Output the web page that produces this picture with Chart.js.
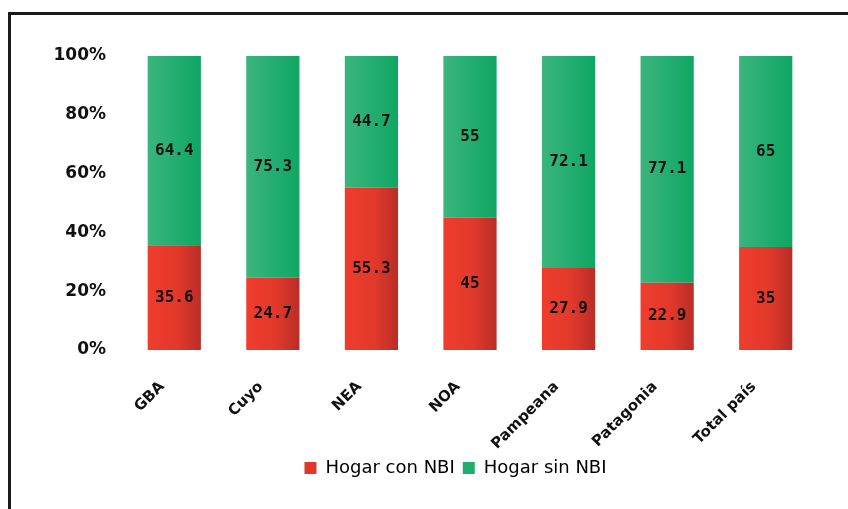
<!DOCTYPE html>
<html>
<head>
<meta charset="utf-8">
<script src="https://cdn.jsdelivr.net/npm/chart.js@4/dist/chart.umd.min.js"></script>
<style>
    html, body { margin: 0; padding: 0; background: #fff; overflow: hidden; }
    #frame { position: absolute; left: 8px; top: 12px; width: 860px; height: 520px; border: 3px solid #1a1a1a; box-sizing: border-box; }
    #wrap { position: absolute; left: 0; top: 0; width: 848px; height: 509px; }
</style>
</head>
<body>
<div id="frame"></div>
<div id="wrap"><canvas id="chart" width="848" height="509"></canvas></div>
<script>
const categories = ['GBA', 'Cuyo', 'NEA', 'NOA', 'Pampeana', 'Patagonia', 'Total país'];
const conNBI = [35.6, 24.7, 55.3, 45, 27.9, 22.9, 35];
const sinNBI = [64.4, 75.3, 44.7, 55, 72.1, 77.1, 65];
const yTicks = [0, 20, 40, 60, 80, 100];

const BAR_HALF = 27;
const LEGEND_SHIFT = 48; // legend sits centred under the plot, not the canvas

// horizontal gradient per bar, light on the left, darker on the right
const barGradient = (light, mid, dark) => (c) => {
    const chart = c.chart;
    const xs = chart.scales.x;
    if (!xs || !chart.chartArea || c.dataIndex === undefined) return mid;
    const cx = xs.getPixelForValue(c.dataIndex);
    const g = chart.ctx.createLinearGradient(cx - BAR_HALF, 0, cx + BAR_HALF, 0);
    g.addColorStop(0, light);
    g.addColorStop(0.55, mid);
    g.addColorStop(1, dark);
    return g;
};

// value labels in the middle of every segment
const valueLabels = {
    id: 'valueLabels',
    afterLayout(chart) {
        if (chart.legend) {
            chart.legend.left += LEGEND_SHIFT;
            chart.legend.right += LEGEND_SHIFT;
        }
    },
    afterDatasetsDraw(chart) {
        const ctx = chart.ctx;
        ctx.save();
        ctx.font = 'bold 16px "DejaVu Sans Mono"';
        ctx.fillStyle = '#111';
        ctx.textAlign = 'center';
        ctx.textBaseline = 'middle';
        chart.data.datasets.forEach((ds, i) => {
            chart.getDatasetMeta(i).data.forEach((bar, j) => {
                const mid = (bar.y + bar.base) / 2;
                ctx.fillText(String(ds.data[j]), bar.x, mid);
            });
        });
        ctx.restore();
    }
};

new Chart(document.getElementById('chart'), {
    type: 'bar',
    data: {
        labels: categories,
        datasets: [
            {
                label: 'Hogar con NBI',
                data: conNBI,
                backgroundColor: barGradient('#ef3d2d', '#e2392b', '#b92d27'),
                borderWidth: 0
            },
            {
                label: 'Hogar sin NBI',
                data: sinNBI,
                backgroundColor: barGradient('#3bb57e', '#22ad70', '#0fa662'),
                borderWidth: 0
            }
        ]
    },
    options: {
        responsive: false,
        animation: false,
        layout: { padding: { left: 0, right: 33, top: 56, bottom: 22 } },
        datasets: { bar: { barPercentage: 0.9, categoryPercentage: 0.6 } },
        scales: {
            x: {
                stacked: true,
                grid: { display: false, drawTicks: false },
                border: { display: false },
                ticks: {
                    color: '#111',
                    font: { family: '"DejaVu Sans"', size: 15, weight: 'bold' },
                    minRotation: 45,
                    maxRotation: 45,
                    labelOffset: -12,
                    padding: 28
                },
                afterFit: (s) => { s.height = 101; }
            },
            y: {
                stacked: true,
                min: 0,
                max: 100,
                grid: { display: false, drawTicks: false },
                border: { display: false },
                afterBuildTicks: (s) => { s.ticks = yTicks.map(v => ({ value: v })); },
                ticks: {
                    color: '#111',
                    font: { family: '"DejaVu Sans"', size: 17, weight: 'bold' },
                    padding: 19,
                    callback: (v) => v + '%'
                },
                afterFit: (s) => { s.width = 125; }
            }
        },
        plugins: {
            legend: {
                position: 'bottom',
                labels: {
                    color: '#111',
                    font: { family: '"DejaVu Sans"', size: 18 },
                    boxWidth: 12,
                    boxHeight: 12,
                    padding: 8,
                    generateLabels: (chart) => [
                        { text: 'Hogar con NBI', fillStyle: '#dd382a', strokeStyle: '#dd382a', lineWidth: 0, datasetIndex: 0 },
                        { text: 'Hogar sin NBI', fillStyle: '#1fae6e', strokeStyle: '#1fae6e', lineWidth: 0, datasetIndex: 1 }
                    ]
                }
            },
            tooltip: { enabled: false }
        }
    },
    plugins: [valueLabels]
});
</script>
</body>
</html>
